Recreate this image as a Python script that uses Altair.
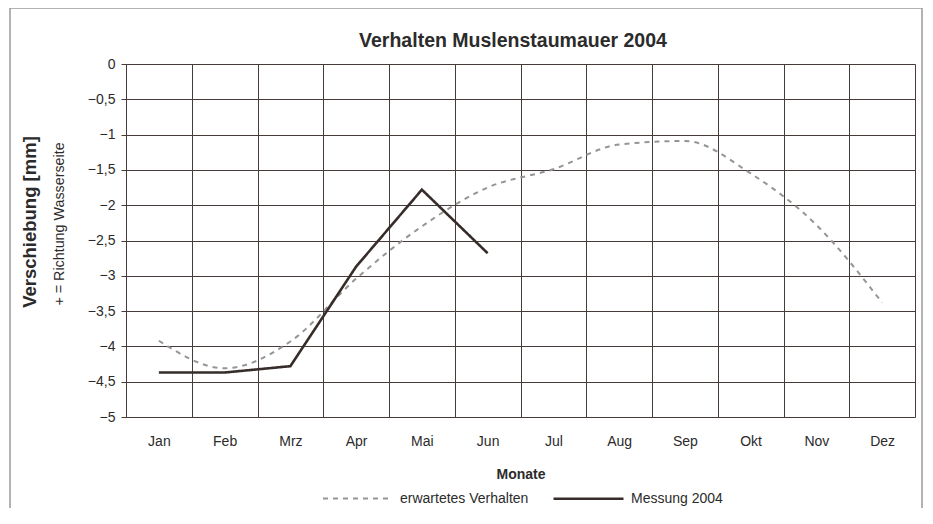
import altair as alt
import pandas as pd

months = ["Jan", "Feb", "Mrz", "Apr", "Mai", "Jun", "Jul", "Aug", "Sep", "Okt", "Nov", "Dez"]
expected = [-3.92, -4.31, -3.93, -3.04, -2.30, -1.75, -1.49, -1.14, -1.09, -1.55, -2.28, -3.38]
measured_months = ["Jan", "Feb", "Mrz", "Apr", "Mai", "Jun"]
measured = [-4.37, -4.37, -4.28, -2.87, -1.78, -2.68]
y_ticks = [0, -0.5, -1, -1.5, -2, -2.5, -3, -3.5, -4, -4.5, -5]

S_EXP = "erwartetes Verhalten"
S_MEAS = "Messung 2004"
TITLE = "Verhalten Muslenstaumauer 2004"
Y_TITLE = "Verschiebung [mm]"
Y_SUB = "+ = Richtung Wasserseite"

df_exp = pd.DataFrame({"Monat": months, "Wert": expected, "Serie": S_EXP})
df_meas = pd.DataFrame({"Monat": measured_months, "Wert": measured, "Serie": S_MEAS})
one = pd.DataFrame({"k": [0]})

FONT = "Liberation Sans"
GRID = "#463d3a"
TXT = "#2b2b2b"

x_enc = alt.X(
    "Monat:N",
    sort=months,
    scale=alt.Scale(domain=months, paddingInner=0, paddingOuter=0),
    axis=alt.Axis(
        title="Monate",
        tickBand="extent",
        grid=True,
        gridColor=GRID,
        gridOpacity=1,
        gridWidth=1,
        ticks=False,
        domain=False,
        labelAngle=0,
        labelPadding=17,
        labelFontSize=14,
        labelColor=TXT,
        labelFont=FONT,
        titleFont=FONT,
        titleFontSize=14,
        titleFontWeight="bold",
        titleColor=TXT,
        titlePadding=19,
    ),
)
y_enc = alt.Y(
    "Wert:Q",
    scale=alt.Scale(domain=[-5, 0], nice=False, zero=False),
    axis=alt.Axis(
        title=None,
        values=y_ticks,
        labelExpr="replace(format(datum.value, '~g'), '.', ',')",
        labelOverlap=False,
        grid=True,
        gridColor=GRID,
        gridOpacity=1,
        gridWidth=1,
        tickSize=5,
        tickColor=GRID,
        domainColor=GRID,
        labelPadding=6,
        labelFontSize=14,
        labelColor=TXT,
        labelFont=FONT,
    ),
)

series_color = alt.Color(
    "Serie:N",
    scale=alt.Scale(domain=[S_EXP, S_MEAS], range=["#959595", "#362c29"]),
    legend=alt.Legend(
        title=None,
        orient="none",
        legendX=196,
        legendY=398,
        direction="horizontal",
        symbolType="stroke",
        symbolSize=4900,
        labelFontSize=14,
        labelFont=FONT,
        labelColor=TXT,
        labelOffset=6,
        columnPadding=19,
    ),
)
series_dash = alt.StrokeDash(
    "Serie:N",
    scale=alt.Scale(domain=[S_EXP, S_MEAS], range=[[5, 5], [1, 0]]),
    legend=None,
)
series_width = alt.StrokeWidth(
    "Serie:N",
    scale=alt.Scale(domain=[S_EXP, S_MEAS], range=[2, 2.6]),
    legend=None,
)

frame = alt.Chart(one).mark_rect(fill=None, stroke="#9a9a9a", strokeWidth=1.5).encode(
    x=alt.value(-116), x2=alt.value(796), y=alt.value(-56), y2=alt.value(470)
)

exp_line = alt.Chart(df_exp).mark_line(interpolate="monotone").encode(
    x=x_enc, y=y_enc, color=series_color, strokeDash=series_dash, strokeWidth=series_width
)
meas_line = alt.Chart(df_meas).mark_line().encode(
    x=x_enc, y=y_enc, color=series_color, strokeDash=series_dash, strokeWidth=series_width
)

title = alt.Chart(one).mark_text(
    text=TITLE, font=FONT, fontSize=19.5, fontWeight="bold",
    color=TXT, align="center", baseline="alphabetic"
).encode(x=alt.value(387), y=alt.value(-17))
ytitle = alt.Chart(one).mark_text(
    text=Y_TITLE, angle=270, font=FONT, fontSize=18.5, fontWeight="bold",
    color=TXT, align="center", baseline="middle"
).encode(x=alt.value(-96), y=alt.value(158))
ysub = alt.Chart(one).mark_text(
    text=Y_SUB, angle=270, font=FONT, fontSize=14.3,
    color=TXT, align="center", baseline="middle"
).encode(x=alt.value(-66), y=alt.value(160))

chart = alt.layer(frame, exp_line, meas_line, title, ytitle, ysub).properties(
    width=789,
    height=353,
    autosize=alt.AutoSizeParams(type="none"),
    padding={"left": 118, "top": 56, "right": 10, "bottom": 91},
).configure_view(stroke=GRID, strokeWidth=1).configure(background="white")

chart.save("out.html", embed_options={"renderer": "svg", "actions": False})
